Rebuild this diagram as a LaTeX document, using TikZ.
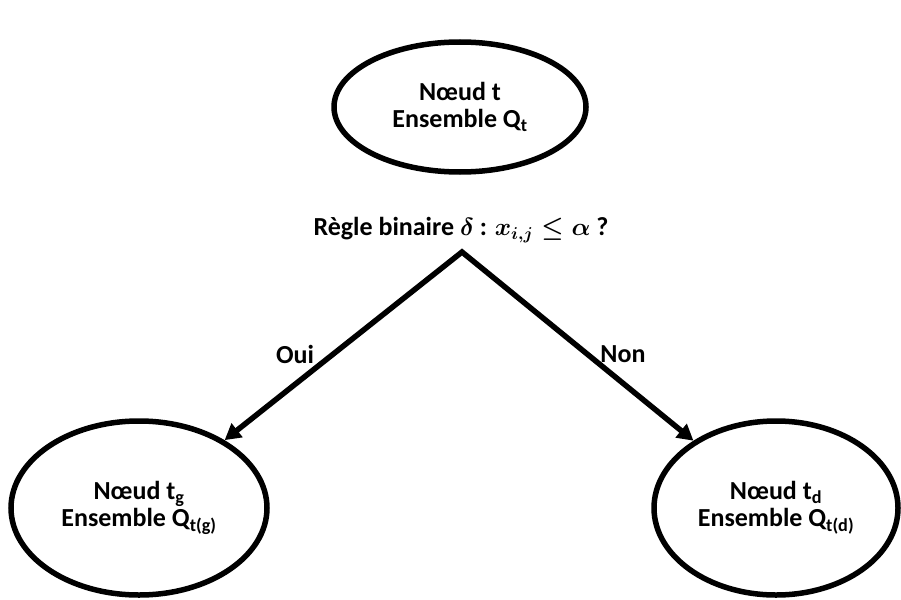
\documentclass[tikz,border=0pt]{standalone}
\usepackage{fontspec}
\setmainfont{Carlito}
\usetikzlibrary{shapes.geometric,arrows.meta}
\begin{document}
\begin{tikzpicture}[x=1pt,y=-1pt,
  nodeell/.style={ellipse,draw,line width=5.5pt,inner sep=0pt,align=center,
    font=\fontsize{26}{27}\selectfont\bfseries},
  lbl/.style={font=\fontsize{26}{27}\selectfont\bfseries},
  branch/.style={line width=5.5pt,line join=miter,
    {Triangle[length=16pt,width=17pt]}-{Triangle[length=16pt,width=17pt]}}]
\useasboundingbox (0,0) rectangle (901,599);
\node[nodeell,minimum width=252pt,minimum height=130pt] (T) at (460,107)
  {Nœud t\\Ensemble Q\textsubscript{t}};
\node[nodeell,minimum width=256pt,minimum height=174pt] (L) at (139,508)
  {Nœud t\textsubscript{g}\\Ensemble Q\textsubscript{t(g)}};
\node[nodeell,minimum width=244pt,minimum height=174pt] (R) at (776,508)
  {Nœud t\textsubscript{d}\\Ensemble Q\textsubscript{t(d)}};
\node[lbl] (rule) at (461,230) {Règle binaire {\boldmath$\delta$} : {\boldmath$x_{i,j} \leq \alpha$} ?};
\coordinate (apex) at (462,252);
\draw[branch] (L) -- (apex) -- (R);
\node[lbl] (oui) at (295,354) {Oui};
\node[lbl] (non) at (623,354) {Non};
\end{tikzpicture}
\end{document}
